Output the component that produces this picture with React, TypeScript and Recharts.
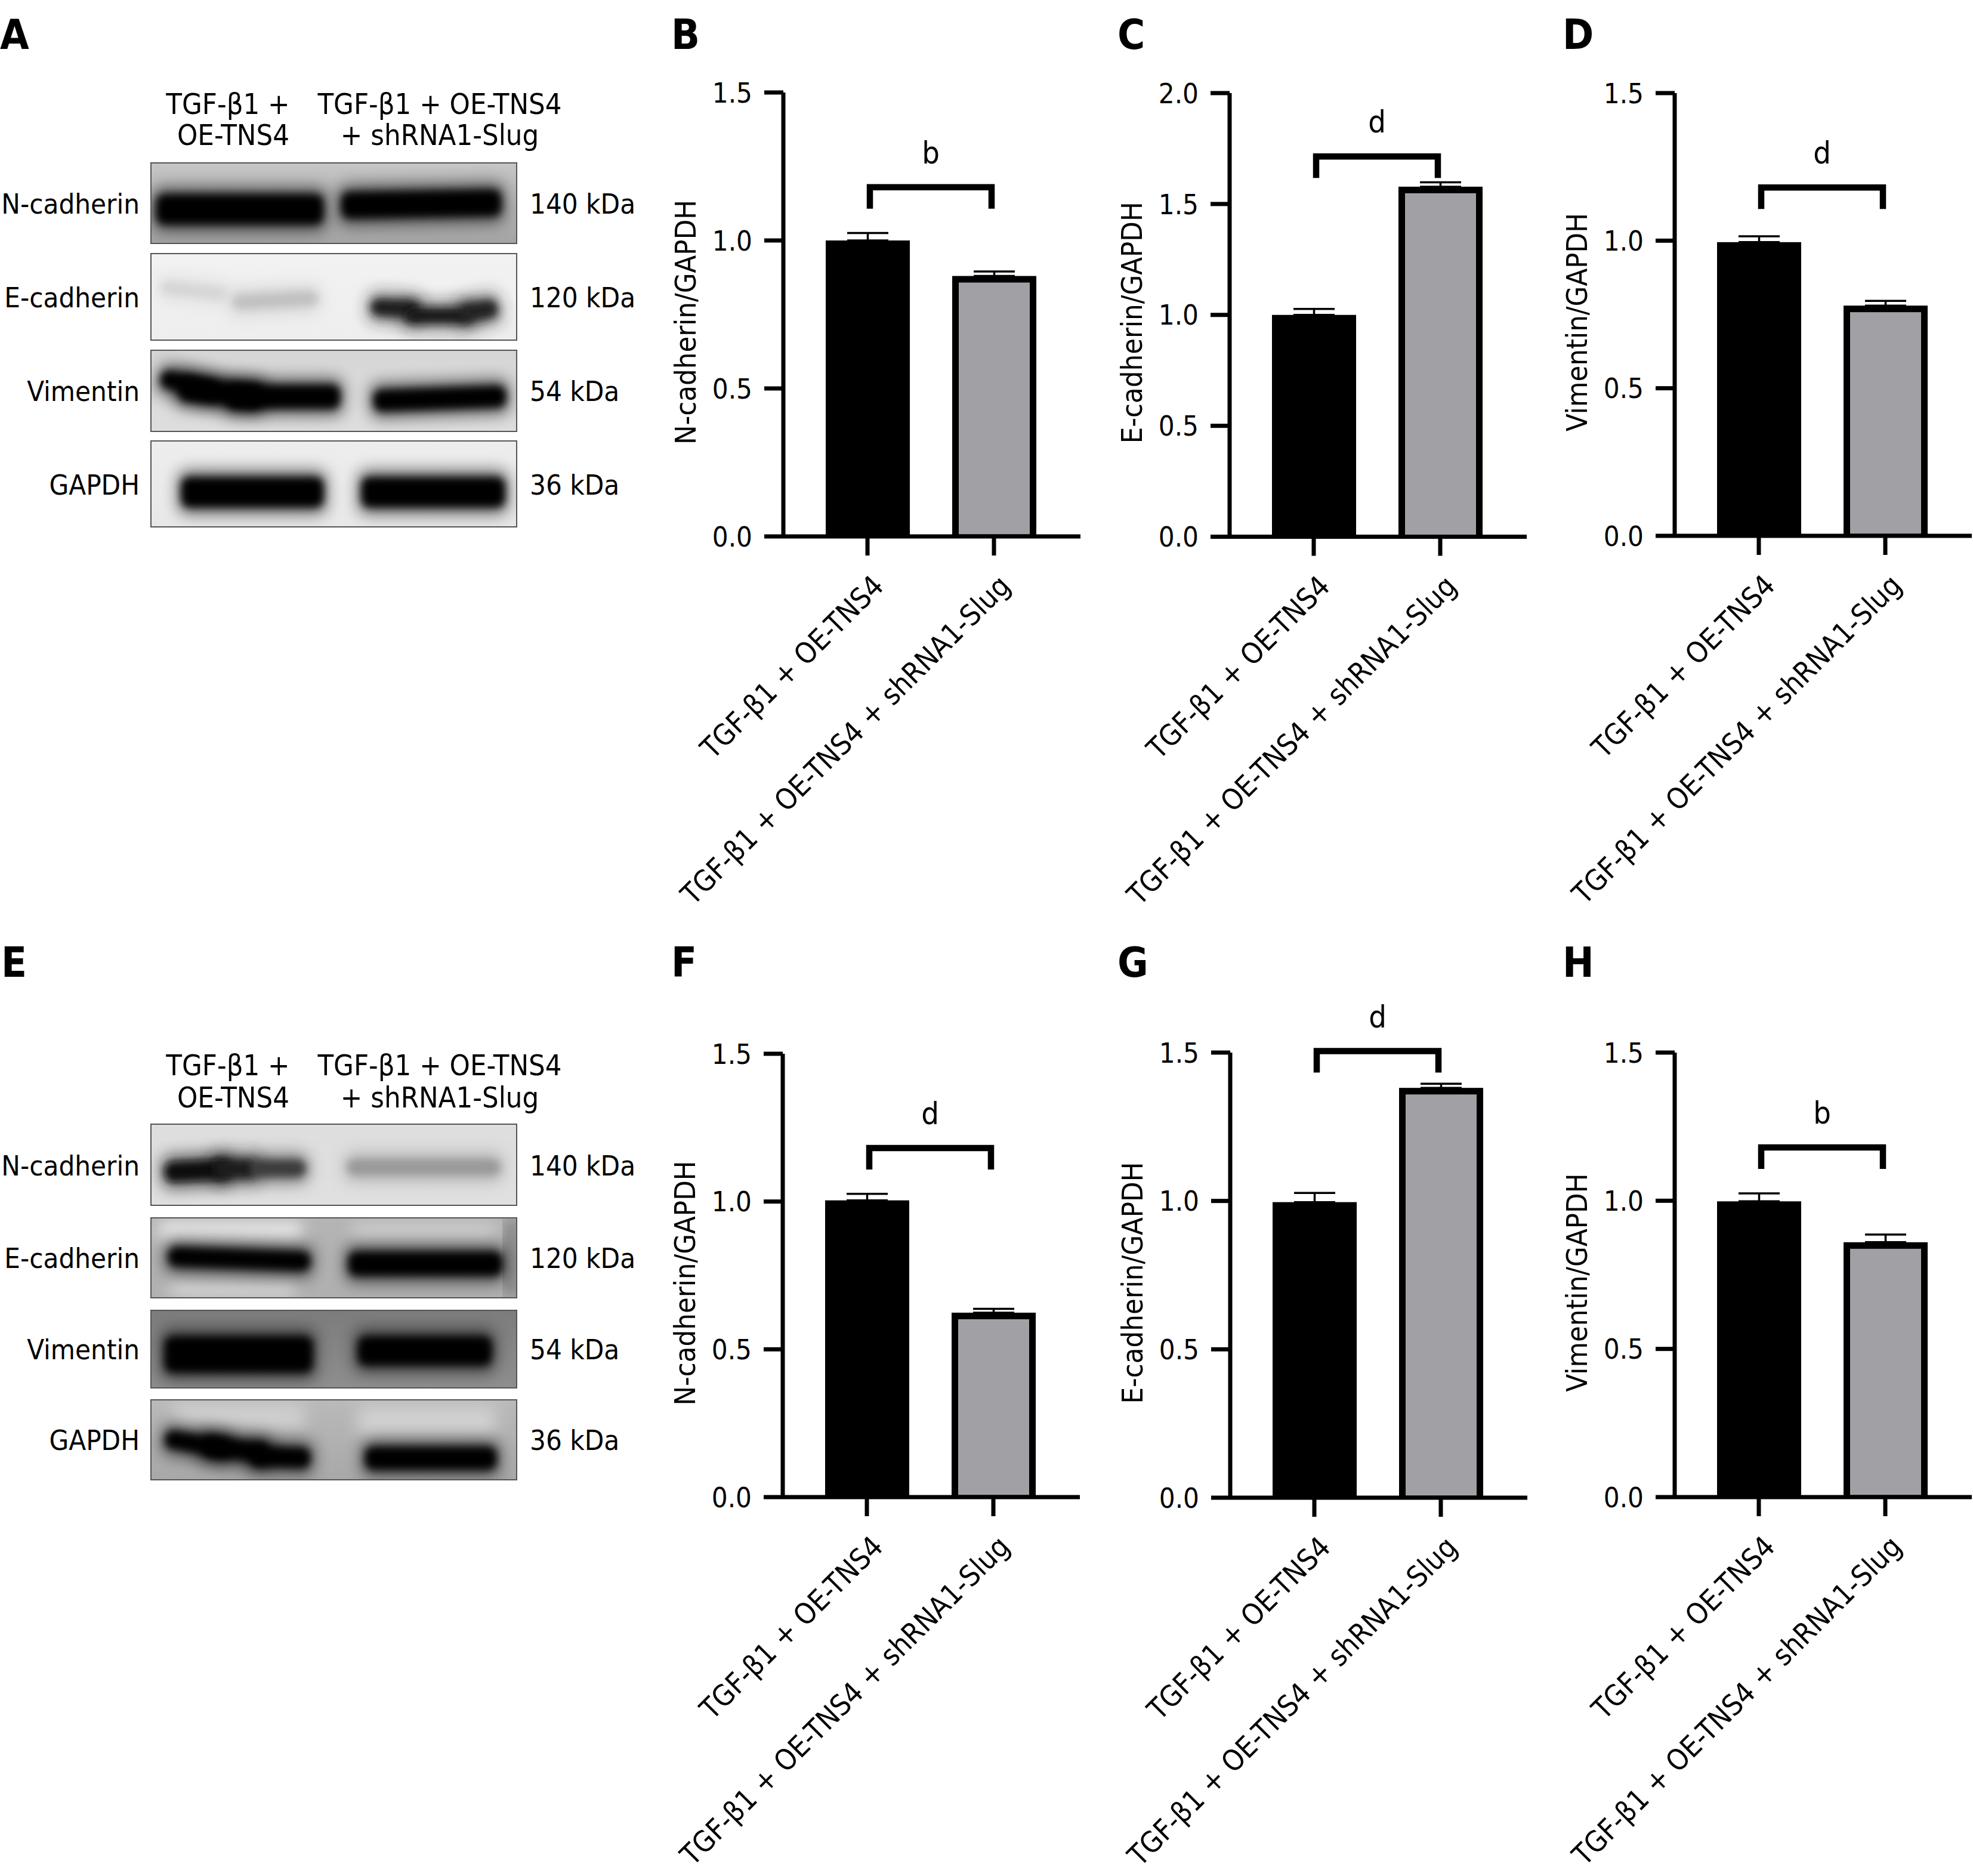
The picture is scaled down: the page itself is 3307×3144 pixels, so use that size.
import React from 'react';
import { BarChart, Bar, ErrorBar, XAxis, YAxis, ReferenceLine } from 'recharts';

const categories = ['TGF-β1 + OE-TNS4', 'TGF-β1 + OE-TNS4 + shRNA1-Slug'];

const ticks15 = [0, 0.5, 1, 1.5];
const ticks20 = [0, 0.5, 1, 1.5, 2];

const valuesB = [1.0, 0.88];
const errorsB = [0.025, 0.015];
const valuesC = [1.0, 1.578];
const errorsC = [0.027, 0.02];
const valuesD = [0.995, 0.78];
const errorsD = [0.02, 0.016];
const valuesF = [1.004, 0.624];
const errorsF = [0.022, 0.013];
const valuesG = [0.996, 1.381];
const errorsG = [0.031, 0.014];
const valuesH = [0.998, 0.86];
const errorsH = [0.027, 0.026];

const blotProteins = ['N-cadherin', 'E-cadherin', 'Vimentin', 'GAPDH'];
const blotSizes = ['140 kDa', '120 kDa', '54 kDa', '36 kDa'];

const FONT = "'DejaVu Sans Condensed', 'DejaVu Sans', sans-serif";
const FONT_SIZE = 48.5;
const AXIS = 7;
const BORDER = 11;
const GREY = '#a1a1a5';
const PLOT_W = 498;
const Y_AXIS_W = 210;
const TOP_SPACE = 100;
const BOTTOM_SPACE = 630;

const panels = [
  { letter: 'B', name: 'N-cadherin/GAPDH', values: valuesB, errors: errorsB, ticks: ticks15, max: 1.5, bracket: 1.18, sig: 'b', ax: 1313, top: 155, h: 744, lx: 1125, ly: 82 },
  { letter: 'C', name: 'E-cadherin/GAPDH', values: valuesC, errors: errorsC, ticks: ticks20, max: 2, bracket: 1.714, sig: 'd', ax: 2061, top: 156, h: 743.5, lx: 1873, ly: 82 },
  { letter: 'D', name: 'Vimentin/GAPDH', values: valuesD, errors: errorsD, ticks: ticks15, max: 1.5, bracket: 1.18, sig: 'd', ax: 2806.5, top: 156, h: 742, lx: 2619, ly: 82 },
  { letter: 'F', name: 'N-cadherin/GAPDH', values: valuesF, errors: errorsF, ticks: ticks15, max: 1.5, bracket: 1.181, sig: 'd', ax: 1312, top: 1766, h: 743, lx: 1125, ly: 1637 },
  { letter: 'G', name: 'E-cadherin/GAPDH', values: valuesG, errors: errorsG, ticks: ticks15, max: 1.5, bracket: 1.505, sig: 'd', ax: 2062, top: 1764, h: 746, lx: 1873, ly: 1637 },
  { letter: 'H', name: 'Vimentin/GAPDH', values: valuesH, errors: errorsH, ticks: ticks15, max: 1.5, bracket: 1.18, sig: 'b', ax: 2807, top: 1764, h: 745, lx: 2619, ly: 1637 },
];

// western blots: frame + soft bands, [x, y, w, h, fill, rotate]
type BandDef = [number, number, number, number, string, number?];
const blots: { y: number; h: number; c1: string; c2: string; bands: BandDef[]; patches?: BandDef[] }[] = [
  { y: 273, h: 135, c1: '#c6c6c6', c2: '#a4a4a4', bands: [[262, 326, 280, 50, '#000'], [572, 320, 268, 44, '#000', -1]] },
  { y: 425, h: 145, c1: '#f2f2f2', c2: '#eeeeee', bands: [[270, 478, 110, 18, '#d4d4d4', 6], [390, 492, 142, 22, '#c0c0c0', -3], [622, 503, 80, 27, '#1c1c1c', 3], [680, 517, 110, 24, '#141414'], [772, 506, 62, 30, '#222', -10]] },
  { y: 587, h: 136, c1: '#d6d6d6', c2: '#dedede', bands: [[268, 630, 100, 30, '#000', 14], [300, 638, 140, 40, '#000', 6], [380, 645, 190, 40, '#000'], [626, 650, 222, 36, '#000', -2]] },
  { y: 739, h: 144, c1: '#ededed', c2: '#e8e8e8', bands: [[304, 800, 238, 50, '#000'], [606, 800, 240, 50, '#000']] },
  { y: 1884, h: 136, c1: '#dedede', c2: '#e0e0e0', bands: [[276, 1945, 110, 34, '#0a0a0a', -3], [360, 1943, 70, 32, '#1a1a1a'], [420, 1944, 92, 28, '#3a3a3a'], [582, 1943, 256, 26, '#999']] },
  { y: 2041, h: 134, c1: '#b4b4b4', c2: '#b0b0b0', patches: [[266, 2046, 240, 34, '#e6e6e6'], [285, 2150, 210, 22, '#dadada'], [590, 2050, 240, 28, '#cdcdcd'], [848, 2042, 18, 132, '#6e6e6e']], bands: [[282, 2094, 238, 32, '#050505', 2], [584, 2098, 258, 40, '#000']] },
  { y: 2196, h: 130, c1: '#7c7c7c', c2: '#8e8e8e', bands: [[276, 2240, 248, 60, '#000'], [600, 2240, 224, 48, '#000']] },
  { y: 2346, h: 134, c1: '#bababa', c2: '#a8a8a8', patches: [[290, 2352, 220, 42, '#cfcfcf'], [600, 2356, 230, 50, '#d0d0d0']], bands: [[276, 2405, 110, 30, '#000', 10], [340, 2412, 110, 34, '#000', 7], [420, 2425, 100, 34, '#000', 2], [612, 2425, 220, 38, '#000']] },
];

const blotHeaders = [
  { y1: 191, y2: 243, rowY: [358, 515, 672, 829] },
  { y1: 1802, y2: 1856, rowY: [1970, 2125, 2278, 2430] },
];

const letters = [
  { t: 'A', x: 0, y: 82 },
  { t: 'E', x: 2, y: 1637 },
];

const XTick = ({ x, y, payload }: any) => (
  <text
    transform={`translate(${x + 30},${y + 52}) rotate(-45)`}
    textAnchor="end"
    fontFamily={FONT}
    fontSize={FONT_SIZE}
    fill="#000"
    style={{ fontStretch: 'condensed' }}
  >
    {payload.value}
  </text>
);

const barShape = ({ x, y, width, height, index }: any) => (
  <g>
    <rect x={x} y={y} width={width} height={height} fill="#000" />
    {index === 1 && (
      <rect x={x + BORDER} y={y + BORDER} width={width - 2 * BORDER} height={height - BORDER - AXIS / 2} fill={GREY} />
    )}
  </g>
);

const bracketShape = (sig: string) => ({ x1, x2, y1 }: any) => (
  <g>
    <path
      d={`M${x1 + 4},${y1 + 36} V${y1} H${x2 - 4} V${y1 + 36}`}
      fill="none"
      stroke="#000"
      strokeWidth={10.5}
    />
    <text
      x={(x1 + x2) / 2}
      y={y1 - 40}
      textAnchor="middle"
      fontFamily={FONT}
      fontSize={52}
      style={{ fontStretch: 'condensed' }}
    >
      {sig}
    </text>
  </g>
);

function Panel({ p }: { p: (typeof panels)[number] }) {
  const data = categories.map((name, i) => ({
    name,
    value: p.values[i],
    err: [0, p.errors[i]],
  }));
  const textStyle = { fontFamily: FONT, fontSize: FONT_SIZE, fill: '#000', fontStretch: 'condensed' };
  return (
    <div style={{ position: 'absolute', left: p.ax - Y_AXIS_W, top: p.top - TOP_SPACE }}>
      <BarChart
        width={Y_AXIS_W + PLOT_W + 2}
        height={TOP_SPACE + p.h + BOTTOM_SPACE}
        data={data}
        barSize={141}
        margin={{ top: TOP_SPACE, right: 2, left: 0, bottom: 0 }}
      >
        <XAxis
          dataKey="name"
          interval={0}
          height={BOTTOM_SPACE}
          padding={{ left: 35, right: 39 }}
          tick={XTick}
          tickSize={32}
          tickLine={{ stroke: '#000', strokeWidth: AXIS }}
          axisLine={{ stroke: '#000', strokeWidth: AXIS }}
        />
        <YAxis
          domain={[0, p.max]}
          ticks={p.ticks}
          width={Y_AXIS_W}
          interval={0}
          tickSize={32}
          tickMargin={20}
          tickFormatter={(v: number) => v.toFixed(1)}
          tick={{ ...textStyle, fontSize: 47 }}
          tickLine={{ stroke: '#000', strokeWidth: AXIS }}
          axisLine={{ stroke: '#000', strokeWidth: AXIS }}
          label={{
            value: p.name,
            angle: -90,
            position: 'insideLeft',
            offset: 46,
            dy: 13,
            style: { ...textStyle, textAnchor: 'middle' },
          }}
        />
        <Bar dataKey="value" isAnimationActive={false} shape={barShape}>
          <ErrorBar dataKey="err" width={34.5} strokeWidth={3.5} stroke="#000" isAnimationActive={false} />
        </Bar>
        <ReferenceLine
          segment={[
            { x: categories[0], y: p.bracket },
            { x: categories[1], y: p.bracket },
          ]}
          ifOverflow="visible"
          shape={bracketShape(p.sig)}
        />
      </BarChart>
    </div>
  );
}

function Blots() {
  const txt = { fontFamily: FONT, fontSize: FONT_SIZE, fill: '#000', style: { fontStretch: 'condensed' } } as any;
  return (
    <svg width={3307} height={3144} style={{ position: 'absolute', left: 0, top: 0 }}>
      <defs>
        <filter id="soft" x="-30%" y="-60%" width="160%" height="220%">
          <feGaussianBlur stdDeviation="7" />
        </filter>
        <filter id="halo" x="-30%" y="-80%" width="160%" height="260%">
          <feGaussianBlur stdDeviation="13" />
        </filter>
        {blots.map((b, i) => (
          <React.Fragment key={i}>
            <linearGradient id={`bg${i}`} x1="0" y1="0" x2="0" y2="1">
              <stop offset="0" stopColor={b.c1} />
              <stop offset="1" stopColor={b.c2} />
            </linearGradient>
            <clipPath id={`clip${i}`}>
              <rect x={253} y={b.y} width={613} height={b.h} />
            </clipPath>
          </React.Fragment>
        ))}
      </defs>
      {blots.map((b, i) => (
        <g key={i}>
          <rect x={253} y={b.y} width={613} height={b.h} fill={`url(#bg${i})`} />
          <g clipPath={`url(#clip${i})`}>
            {(b.patches || []).map(([x, y, w, h, fill], j) => (
              <rect key={j} x={x} y={y} width={w} height={h} fill={fill} filter="url(#halo)" />
            ))}
            {b.bands.map(([x, y, w, h, fill, rot], j) => (
              <rect
                key={`h${j}`}
                x={x - 6}
                y={y - 12}
                width={w + 12}
                height={h + 24}
                rx={16}
                fill={fill}
                opacity={0.55}
                filter="url(#halo)"
                transform={`rotate(${rot || 0} ${x + w / 2} ${y + h / 2})`}
              />
            ))}
            {b.bands.map(([x, y, w, h, fill, rot], j) => (
              <rect
                key={`c${j}`}
                x={x}
                y={y}
                width={w}
                height={h}
                rx={14}
                fill={fill}
                filter="url(#soft)"
                transform={`rotate(${rot || 0} ${x + w / 2} ${y + h / 2})`}
              />
            ))}
          </g>
          <rect x={253} y={b.y} width={613} height={b.h} fill="none" stroke="#555" strokeWidth={2} />
        </g>
      ))}
      {blotHeaders.map((r, i) => (
        <g key={i} {...txt}>
          <text x={382} y={r.y1} textAnchor="middle">TGF-β1 +</text>
          <text x={391} y={r.y2} textAnchor="middle">OE-TNS4</text>
          <text x={737} y={r.y1} textAnchor="middle">TGF-β1 + OE-TNS4</text>
          <text x={737} y={r.y2} textAnchor="middle">+ shRNA1-Slug</text>
          {blotProteins.map((name, j) => (
            <text key={name} x={234} y={r.rowY[j]} textAnchor="end" fontSize={47}>{name}</text>
          ))}
          {blotSizes.map((s, j) => (
            <text key={s} x={888} y={r.rowY[j]} fontSize={47}>{s}</text>
          ))}
        </g>
      ))}
      {[...letters, ...panels.map((p) => ({ t: p.letter, x: p.lx, y: p.ly }))].map((l) => (
        <text
          key={l.t}
          x={l.x}
          y={l.y}
          fontFamily={FONT}
          fontSize={70}
          fontWeight="bold"
          style={{ fontStretch: 'condensed' }}
        >
          {l.t}
        </text>
      ))}
    </svg>
  );
}

export default function App() {
  return (
    <div style={{ position: 'absolute', left: 0, top: 0, width: 3307, height: 3144, background: '#fff', overflow: 'hidden' }}>
      <Blots />
      {panels.map((p) => (
        <Panel key={p.letter} p={p} />
      ))}
    </div>
  );
}
